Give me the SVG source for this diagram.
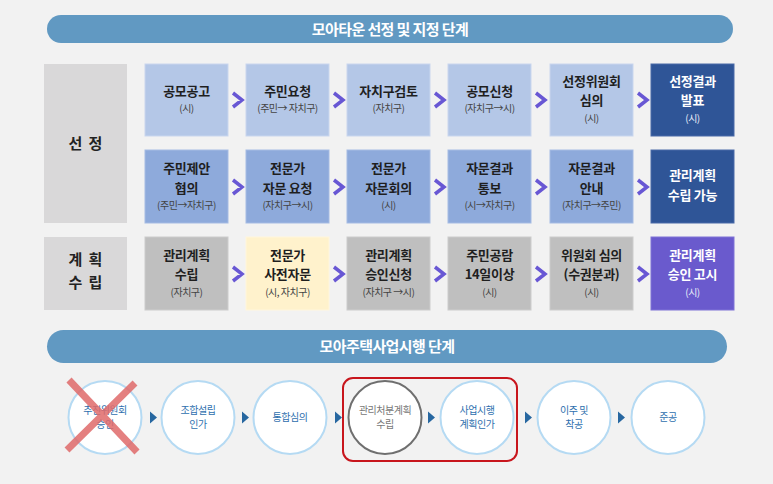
<svg xmlns="http://www.w3.org/2000/svg" width="773" height="484" viewBox="0 0 773 484">
<style>
text{font-family:"Noto Sans CJK KR","Noto Sans",sans-serif;text-anchor:middle}
.t{font-size:13px;font-weight:bold;fill:#1f1f1f;letter-spacing:-0.3px}
.s{font-size:10px;fill:#444;letter-spacing:-0.5px}
.tw{font-size:13px;font-weight:bold;fill:#fff;letter-spacing:-0.3px}
.sw{font-size:10px;fill:#e8ecf8;letter-spacing:-0.5px}
.lab{font-size:15px;font-weight:bold;fill:#222}
.ban{font-size:15px;font-weight:bold;fill:#fff;letter-spacing:-0.6px}
.c{font-size:10px;fill:#2e6fae;letter-spacing:-0.5px}
.cg{font-size:10px;fill:#777;letter-spacing:-0.5px}
.r1{fill:#b4c7e7;stroke:#c9d6ee;stroke-width:1}
.r2{fill:#8eaadb;stroke:#a5bbe3;stroke-width:1}
.dk{fill:#2f5597;stroke:#4a6aa8;stroke-width:1}
.gr{fill:#bfbfbf;stroke:#cccccc;stroke-width:1}
.ye{fill:#fff2cc;stroke:#fff6dc;stroke-width:1}
.pu{fill:#6a5acd;stroke:#7f72d6;stroke-width:1}
.lb{fill:#d9d8d9}
.chev{fill:none;stroke:#6857d4;stroke-width:3.5}
.circ{fill:#fff;stroke:#b5daf3;stroke-width:2}
.tri{fill:#2767a0}
</style>
<rect x="0" y="0" width="773" height="484" fill="#f2f2f2"/>

<g id="banner-top">
<rect x="47" y="15" width="686" height="28" rx="14" fill="#6199c2"/>
<text class="ban" x="390" y="34.5">모아타운 선정 및 지정 단계</text>
</g>

<g id="label-selection">
<rect class="lb" x="44" y="64" width="83" height="159"/>
<text class="lab" x="75.5" y="149">선</text><text class="lab" x="95.5" y="149">정</text>
</g>
<g id="label-plan">
<rect class="lb" x="44" y="237" width="83" height="73"/>
<text class="lab" x="75.5" y="265">계</text><text class="lab" x="95.5" y="265">획</text>
<text class="lab" x="75.5" y="288">수</text><text class="lab" x="95.5" y="288">립</text>
</g>

<!-- Row 1 -->
<g id="r1n1"><rect class="r1" x="145" y="64" width="83" height="72"/>
<text class="t" x="186.5" y="95.5">공모공고</text><text class="s" x="186.5" y="111.5">(시)</text></g>
<g id="r1n2"><rect class="r1" x="246" y="64" width="83" height="72"/>
<text class="t" x="287.5" y="95.5">주민요청</text><text class="s" x="287.5" y="111.5">(주민→ 자치구)</text></g>
<g id="r1n3"><rect class="r1" x="347" y="64" width="83" height="72"/>
<text class="t" x="388.5" y="95.5">자치구검토</text><text class="s" x="388.5" y="111.5">(자치구)</text></g>
<g id="r1n4"><rect class="r1" x="448" y="64" width="83" height="72"/>
<text class="t" x="489.5" y="95.5">공모신청</text><text class="s" x="489.5" y="111.5">(자치구→시)</text></g>
<g id="r1n5"><rect class="r1" x="550" y="64" width="83" height="72"/>
<text class="t" x="591.5" y="85.5">선정위원회</text><text class="t" x="591.5" y="104.5">심의</text><text class="s" x="591.5" y="121.5">(시)</text></g>
<g id="r1n6"><rect class="dk" x="651" y="64" width="83" height="72"/>
<text class="tw" x="692.5" y="85.5">선정결과</text><text class="tw" x="692.5" y="104.5">발표</text><text class="sw" x="692.5" y="121.5">(시)</text></g>

<!-- Row 2 -->
<g id="r2n1"><rect class="r2" x="145" y="150" width="83" height="73"/>
<text class="t" x="186.5" y="172.5">주민제안</text><text class="t" x="186.5" y="192.5">협의</text><text class="s" x="186.5" y="208.5">(주민→자치구)</text></g>
<g id="r2n2"><rect class="r2" x="246" y="150" width="83" height="73"/>
<text class="t" x="287.5" y="172.5">전문가</text><text class="t" x="287.5" y="192.5">자문 요청</text><text class="s" x="287.5" y="208.5">(자치구→시)</text></g>
<g id="r2n3"><rect class="r2" x="347" y="150" width="83" height="73"/>
<text class="t" x="388.5" y="172.5">전문가</text><text class="t" x="388.5" y="192.5">자문회의</text><text class="s" x="388.5" y="208.5">(시)</text></g>
<g id="r2n4"><rect class="r2" x="448" y="150" width="83" height="73"/>
<text class="t" x="489.5" y="172.5">자문결과</text><text class="t" x="489.5" y="192.5">통보</text><text class="s" x="489.5" y="208.5">(시→자치구)</text></g>
<g id="r2n5"><rect class="r2" x="550" y="150" width="83" height="73"/>
<text class="t" x="591.5" y="172.5">자문결과</text><text class="t" x="591.5" y="192.5">안내</text><text class="s" x="591.5" y="208.5">(자치구→주민)</text></g>
<g id="r2n6"><rect class="dk" x="651" y="150" width="83" height="73"/>
<text class="tw" x="692.5" y="179.5">관리계획</text><text class="tw" x="692.5" y="199.5">수립 가능</text></g>

<!-- Row 3 -->
<g id="r3n1"><rect class="gr" x="145" y="237" width="83" height="73"/>
<text class="t" x="186.5" y="259.5">관리계획</text><text class="t" x="186.5" y="278.5">수립</text><text class="s" x="186.5" y="295.5">(자치구)</text></g>
<g id="r3n2"><rect class="ye" x="246" y="237" width="83" height="73"/>
<text class="t" x="287.5" y="259.5">전문가</text><text class="t" x="287.5" y="278.5">사전자문</text><text class="s" x="287.5" y="295.5">(시, 자치구)</text></g>
<g id="r3n3"><rect class="gr" x="347" y="237" width="83" height="73"/>
<text class="t" x="388.5" y="259.5">관리계획</text><text class="t" x="388.5" y="278.5">승인신청</text><text class="s" x="388.5" y="295.5">(자치구 →시)</text></g>
<g id="r3n4"><rect class="gr" x="448" y="237" width="83" height="73"/>
<text class="t" x="489.5" y="259.5">주민공람</text><text class="t" x="489.5" y="278.5">14일이상</text><text class="s" x="489.5" y="295.5">(시)</text></g>
<g id="r3n5"><rect class="gr" x="550" y="237" width="83" height="73"/>
<text class="t" x="591.5" y="259.5">위원회 심의</text><text class="t" x="591.5" y="278.5">(수권분과)</text><text class="s" x="591.5" y="295.5">(시)</text></g>
<g id="r3n6"><rect class="pu" x="651" y="237" width="83" height="73"/>
<text class="tw" x="692.5" y="259.5">관리계획</text><text class="tw" x="692.5" y="278.5">승인 고시</text><text class="sw" x="692.5" y="295.5">(시)</text></g>

<g id="connectors">
<path class="chev" d="M233,93 L242,100 L233,107 M334,93 L343,100 L334,107 M435,93 L444,100 L435,107 M536,93 L545,100 L536,107 M638,93 L647,100 L638,107"/>
<path class="chev" d="M233,180 L242,187 L233,194 M334,180 L343,187 L334,194 M435,180 L444,187 L435,194 M536,180 L545,187 L536,194 M638,180 L647,187 L638,194"/>
<path class="chev" d="M233,267 L242,274 L233,281 M334,267 L343,274 L334,281 M435,267 L444,274 L435,281 M536,267 L545,274 L536,281 M638,267 L647,274 L638,281"/>
<path class="tri" d="M150,411.5 L157,417.5 L150,423.5 Z M242,411.5 L249,417.5 L242,423.5 Z M335,411.5 L342,417.5 L335,423.5 Z M428,411.5 L435,417.5 L428,423.5 Z M525,411.5 L532,417.5 L525,423.5 Z M618,411.5 L625,417.5 L618,423.5 Z"/>
</g>

<g id="banner-bottom">
<rect x="47" y="330" width="680" height="33" rx="16.5" fill="#6199c2"/>
<text class="ban" x="387" y="352">모아주택사업시행 단계</text>
</g>

<g id="highlight">
<rect x="343" y="378" width="174" height="83" rx="10" fill="none" stroke="#c8161d" stroke-width="2"/>
</g>

<g id="c1"><circle class="circ" cx="105" cy="417.5" r="36.5"/>
<text class="c" x="105" y="414">추진위원회</text><text class="c" x="105" y="428">승인</text>
<path d="M69,380 L137,452 M135,383 L67,450" stroke="#e06a6a" stroke-width="7" opacity="0.85"/></g>
<g id="c2"><circle class="circ" cx="198" cy="417.5" r="36.5"/>
<text class="c" x="198" y="414">조합설립</text><text class="c" x="198" y="428">인가</text></g>
<g id="c3"><circle class="circ" cx="290" cy="417.5" r="36.5"/>
<text class="c" x="290" y="421">통합심의</text></g>
<g id="c4"><circle cx="385" cy="417.5" r="36.5" fill="#fff" stroke="#6f6f6f" stroke-width="2"/>
<text class="cg" x="385" y="414">관리처분계획</text><text class="cg" x="385" y="428">수립</text></g>
<g id="c5"><circle class="circ" cx="477" cy="417.5" r="36.5"/>
<text class="c" x="477" y="414">사업시행</text><text class="c" x="477" y="428">계획인가</text></g>
<g id="c6"><circle class="circ" cx="574" cy="417.5" r="36.5"/>
<text class="c" x="574" y="414">이주 및</text><text class="c" x="574" y="428">착공</text></g>
<g id="c7"><circle class="circ" cx="668" cy="417.5" r="36.5"/>
<text class="c" x="668" y="421">준공</text></g>
</svg>
